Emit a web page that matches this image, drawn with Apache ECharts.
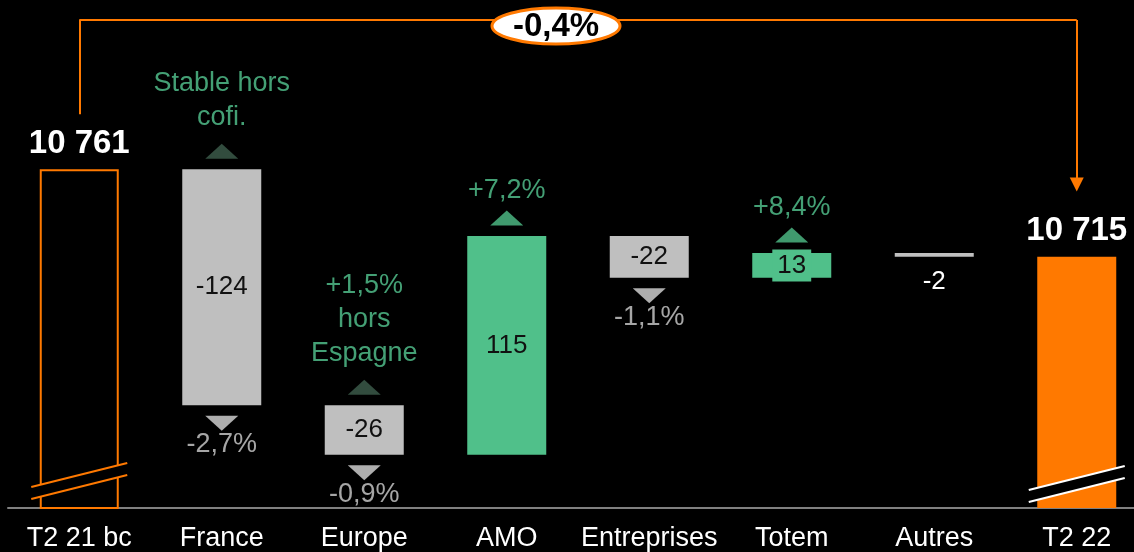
<!DOCTYPE html>
<html>
<head>
<meta charset="utf-8">
<script src="https://cdn.jsdelivr.net/npm/echarts@6/dist/echarts.min.js"></script>
<style>
  html, body { margin: 0; padding: 0; background: #000; }
  #main { width: 1134px; height: 552px; }
</style>
</head>
<body>
<div id="main"></div>
<script>
// data
const categories = ['T2 21 bc', 'France', 'Europe', 'AMO', 'Entreprises', 'Totem', 'Autres', 'T2 22'];
const startTotal = 10761;
const endTotal = 10715;
const deltas = [-124, -26, 115, -22, 13, -2]; // France .. Autres
const upNoteCats = ['France', 'Europe', 'AMO', 'Totem'];
const upNoteTexts = ['Stable hors\ncofi.', '+1,5%\nhors\nEspagne', '+7,2%', '+8,4%'];
const upNoteKind = ['hors', 'hors', 'total', 'total'];
const downNoteCats = ['France', 'Europe', 'Entreprises'];
const downNoteTexts = ['-2,7%', '-0,9%', '-1,1%'];
const totalChange = '-0,4%';

const ORANGE = '#ff7900';
const GREEN = '#50c08a';
const DARKGREEN = '#3e5f4e';
const GREY = '#bfbfbf';
const FONT = '"Liberation Sans", Arial, sans-serif';

const fmt = v => String(v).replace(/\B(?=(\d{3})+(?!\d))/g, ' ');

// build the waterfall
let cum = startTotal;
const base = [0];
const tops = [startTotal];
const bottoms = [null];
const visible = [{
  value: startTotal,
  itemStyle: { color: '#000', borderColor: ORANGE, borderWidth: 2 },
  label: { show: true, position: 'top', distance: 9, formatter: fmt(startTotal),
           color: '#fff', fontWeight: 'bold', fontSize: 33 }
}];
deltas.forEach(d => {
  const next = cum + d;
  const lo = Math.min(cum, next), hi = Math.max(cum, next);
  base.push(lo);
  tops.push(hi);
  bottoms.push(lo);
  const small = Math.abs(d) < 5;
  const item = {
    value: Math.abs(d),
    itemStyle: { color: d < 0 ? GREY : GREEN },
    label: {
      show: true,
      position: small ? 'bottom' : 'inside',
      distance: 12,
      formatter: String(d),
      color: small ? '#fff' : '#111',
      fontSize: 26
    }
  };
  if (d > 0 && Math.abs(d) < 20) {
    item.label.backgroundColor = GREEN;
    item.label.padding = [3, 5];
  }
  visible.push(item);
  cum = next;
});
base.push(0);
tops.push(endTotal);
visible.push({
  value: endTotal,
  itemStyle: { color: ORANGE },
  label: { show: true, position: 'top', distance: 9, formatter: fmt(endTotal),
           color: '#fff', fontWeight: 'bold', fontSize: 33 }
});

const upData = upNoteCats.map((c, i) => {
  const idx = categories.indexOf(c);
  const multi = upNoteTexts[i].indexOf('\n') >= 0;
  return {
    value: [idx, tops[idx]],
    itemStyle: { color: upNoteKind[i] === 'hors' ? DARKGREEN : GREEN },
    label: { formatter: upNoteTexts[i], distance: multi ? 9 : 3 }
  };
});
const downData = downNoteCats.map((c, i) => {
  const idx = categories.indexOf(c);
  return { value: [idx, bottoms[idx]], label: { formatter: downNoteTexts[i] } };
});

const yMin = 10583, yMax = 10839.5;

const chart = echarts.init(document.getElementById('main'));
chart.setOption({
  backgroundColor: '#000',
  animation: false,
  textStyle: { fontFamily: FONT },
  grid: { left: 8, width: 1140, top: 20, bottom: 44, outerBoundsMode: 'none', containLabel: false },
  xAxis: {
    type: 'category',
    data: categories,
    axisLine: { lineStyle: { color: '#808080', width: 2 } },
    axisTick: { show: false },
    axisLabel: { color: '#fff', fontSize: 27, margin: 17, interval: 0, fontFamily: FONT }
  },
  yAxis: { type: 'value', min: yMin, max: yMax, show: false },
  series: [
    {
      type: 'bar', stack: 'wf', barWidth: 79, silent: true,
      itemStyle: { color: 'transparent' },
      data: base
    },
    {
      type: 'bar', stack: 'wf', barWidth: 79,
      label: { fontFamily: FONT },
      data: visible
    },
    {
      type: 'scatter',
      symbol: 'triangle',
      symbolSize: [33, 15],
      symbolOffset: [0, -18],
      label: { show: true, position: 'top', color: '#55c892', fontSize: 27,
               lineHeight: 34, fontFamily: FONT },
      data: upData,
      z: 5
    },
    {
      type: 'scatter',
      symbol: 'path://M0,0 L2,0 L1,1 Z',
      symbolSize: [33, 15],
      symbolOffset: [0, 18],
      itemStyle: { color: '#d9d9d9' },
      label: { show: true, position: 'bottom', distance: 0, color: '#d0d0d0',
               fontSize: 27, lineHeight: 28, fontFamily: FONT },
      data: downData,
      z: 5
    },
    {
      type: 'lines',
      coordinateSystem: 'cartesian2d',
      silent: true,
      symbol: 'none',
      lineStyle: { color: ORANGE, width: 2, opacity: 1 },
      data: [
        { coords: [[0, 10790], [0, yMax]] },
        { coords: [[0, yMax], [categories.length - 1, yMax]] }
      ],
      z: 3
    },
    {
      type: 'lines',
      coordinateSystem: 'cartesian2d',
      silent: true,
      symbol: ['none', 'triangle'],
      symbolSize: 14,
      lineStyle: { color: ORANGE, width: 2, opacity: 1 },
      data: [{ coords: [[categories.length - 1, yMax], [categories.length - 1, 10753]] }],
      z: 3
    }
  ]
});

// axis-break marks and the total-change badge
function breakMark(cx, y0, color) {
  const x1 = cx - 48, x2 = cx + 48;
  return [
    { type: 'polygon', z: 10, shape: { points: [[x1, y0 - 20], [x2, y0 - 44], [x2, y0 - 32], [x1, y0 - 8]] },
      style: { fill: '#000' } },
    { type: 'line', z: 11, shape: { x1: x1, y1: y0 - 20, x2: x2, y2: y0 - 44 },
      style: { stroke: color, lineWidth: 2 } },
    { type: 'line', z: 11, shape: { x1: x1, y1: y0 - 8, x2: x2, y2: y0 - 32 },
      style: { stroke: color, lineWidth: 2 } }
  ];
}
const p0 = chart.convertToPixel({ gridIndex: 0 }, [0, yMin]);
const p1 = chart.convertToPixel({ gridIndex: 0 }, [categories.length - 1, yMin]);
const pTop = chart.convertToPixel({ gridIndex: 0 }, [0, yMax]);
chart.setOption({
  graphic: [].concat(
    breakMark(p0[0], p0[1] - 1, ORANGE),
    breakMark(p1[0], p1[1] + 2, '#fff'),
    [
      { type: 'ellipse', z: 20, shape: { cx: 556, cy: pTop[1] + 6, rx: 64, ry: 18 },
        style: { fill: '#fff', stroke: ORANGE, lineWidth: 3 } },
      { type: 'text', z: 21, x: 556, y: pTop[1] + 7,
        style: { text: totalChange, fill: '#000', font: 'bold 33px ' + FONT,
                 align: 'center', verticalAlign: 'middle' } }
    ]
  )
});
</script>
</body>
</html>
